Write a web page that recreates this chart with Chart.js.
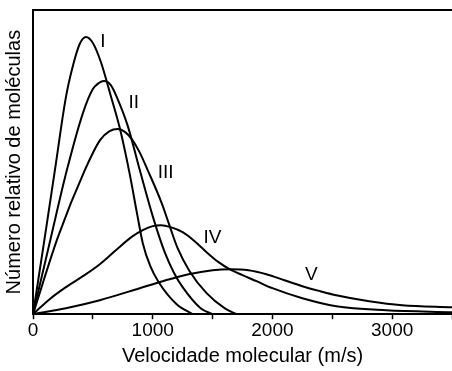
<!DOCTYPE html>
<html>
<head>
<meta charset="utf-8">
<script src="https://cdn.jsdelivr.net/npm/chart.js@4"></script>
<style>
    html, body { margin: 0; padding: 0; background: #fff; }
    #wrap { width: 452px; height: 371px; }
</style>
</head>
<body>
<div id="wrap"><canvas id="speedChart" width="452" height="371"></canvas></div>
<script>
// speeds (m/s) and relative number of molecules
const speedsI = [0, 100, 183, 275, 333, 390, 442, 500, 567, 650, 725, 808, 870, 917, 980, 1050, 1200, 1333];
const valuesI = [0, 78, 144, 217, 248, 270, 277, 271, 252, 218, 186, 140, 100, 71, 48, 32, 10, 0];

const speedsII = [0, 150, 283, 417, 500, 550, 592, 650, 700, 792, 892, 1000, 1100, 1175, 1250, 1400, 1500];
const valuesII = [0, 77, 144, 201, 225, 231, 233, 229, 217, 188, 144, 98, 62, 42, 27, 6, 0];

const speedsIII = [0, 208, 433, 560, 640, 708, 770, 825, 890, 958, 1075, 1142, 1208, 1308, 1450, 1600, 1700];
const valuesIII = [0, 77, 144, 174, 183, 185, 182, 175, 162, 144, 111, 88, 66, 43, 21, 6, 0];

const speedsIV = [0, 139, 275, 417, 558, 692, 833, 917, 1000, 1070, 1150, 1250, 1350, 1450, 1550, 1642, 1750, 1867, 2000, 2250, 2533, 2950, 3500];
const valuesIV = [0, 15, 27, 38, 50, 64, 78, 84, 88, 89, 87, 82, 73, 62, 52, 45, 39, 33, 26, 16, 8, 4, 2];

const speedsV = [0, 275, 558, 892, 1083, 1300, 1500, 1650, 1800, 1950, 2100, 2250, 2400, 2533, 2808, 3083, 3500];
const valuesV = [0, 6, 14, 26, 33, 40, 44, 45, 44, 40, 34, 28, 23, 19, 13, 9, 7];

const curveNames = ['I', 'II', 'III', 'IV', 'V'];
const labelSpeeds = [583, 842, 1108, 1500, 2325];
const labelValues = [272, 211, 141, 76, 39];

const tickStep = 500;
const fontFamily = "'Liberation Sans', Arial, sans-serif";
const tickFont = { family: fontFamily, size: 19 };
const titleFont = { family: fontFamily, size: 20 };

function toPoints(xs, ys) {
    return xs.map(function(x, i) { return { x: x, y: ys[i] }; });
}

function curve(name, xs, ys) {
    return {
        label: name,
        data: toPoints(xs, ys),
        borderColor: '#000',
        borderWidth: 2,
        pointRadius: 0,
        fill: false,
        cubicInterpolationMode: 'monotone',
    };
}

// roman numerals next to each curve
const curveLabels = {
    id: 'curveLabels',
    afterDatasetsDraw(chart) {
        const ctx = chart.ctx;
        const xs = chart.scales.x;
        const ys = chart.scales.y;
        ctx.save();
        ctx.fillStyle = '#000';
        ctx.font = "19px " + fontFamily;
        ctx.textAlign = 'center';
        ctx.textBaseline = 'middle';
        curveNames.forEach(function(n, i) {
            ctx.fillText(n, xs.getPixelForValue(labelSpeeds[i]), ys.getPixelForValue(labelValues[i]));
        });
        ctx.restore();
    }
};

const ctxSpeed = document.getElementById('speedChart').getContext('2d');

new Chart(ctxSpeed, {
    type: 'line',
    data: {
        datasets: [
            curve('I', speedsI, valuesI),
            curve('II', speedsII, valuesII),
            curve('III', speedsIII, valuesIII),
            curve('IV', speedsIV, valuesIV),
            curve('V', speedsV, valuesV),
        ]
    },
    options: {
        responsive: false,
        animation: false,
        layout: {
            padding: { left: 0, right: 0, top: 10, bottom: 0 }
        },
        scales: {
            x: {
                type: 'linear',
                min: 0,
                max: 3500,
                border: { color: '#000', width: 2 },
                grid: {
                    display: true,
                    drawOnChartArea: false,
                    drawTicks: true,
                    tickLength: 5,
                    tickColor: '#000',
                    tickWidth: 1.5,
                },
                ticks: {
                    stepSize: tickStep,
                    color: '#000',
                    padding: 0,
                    maxRotation: 0,
                    font: tickFont,
                    callback: function(value) {
                        return value % 1000 === 0 ? String(value) : '';
                    }
                },
                title: {
                    display: true,
                    text: 'Velocidade molecular (m/s)',
                    color: '#000',
                    font: titleFont,
                    padding: { top: 2, bottom: 3 },
                },
            },
            xTop: {
                type: 'linear',
                position: 'top',
                min: 0,
                max: 3500,
                border: { color: '#000', width: 2 },
                grid: { display: false, drawTicks: false },
                ticks: { display: false },
            },
            y: {
                type: 'linear',
                min: 0,
                max: 304,
                border: { color: '#000', width: 2 },
                grid: { display: false, drawTicks: false },
                ticks: { display: false },
                title: {
                    display: true,
                    text: 'Número relativo de moléculas',
                    color: '#000',
                    font: titleFont,
                    padding: { top: 2.5, bottom: 6.5 },
                },
            },
        },
        plugins: {
            legend: { display: false },
            tooltip: { enabled: false },
        },
    },
    plugins: [curveLabels],
});
</script>
</body>
</html>
